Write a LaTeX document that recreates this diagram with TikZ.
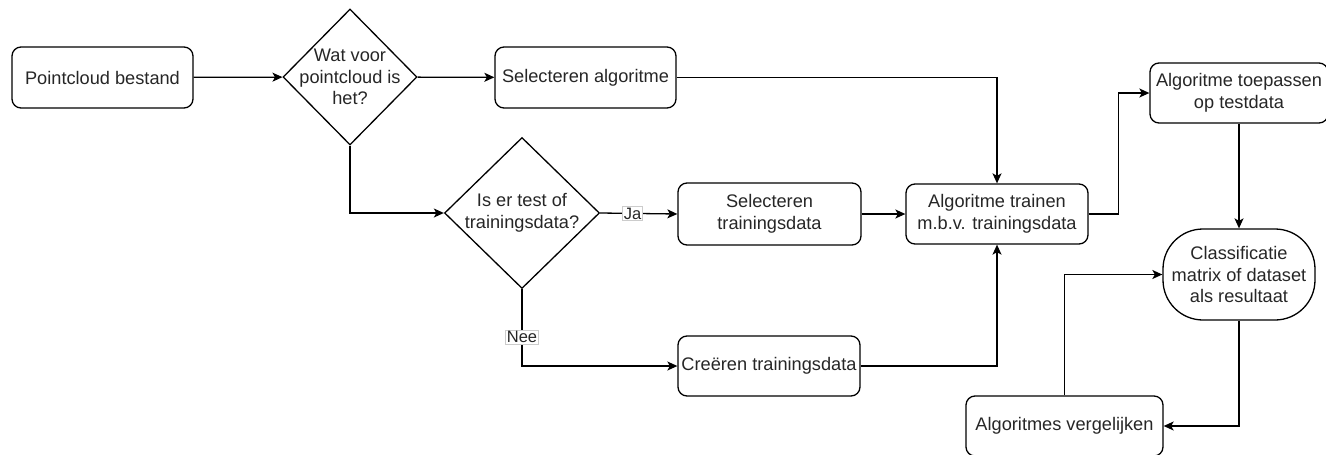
\documentclass[tikz,border=0pt]{standalone}
\usepackage{fontspec}
\setmainfont{Liberation Sans}
\usetikzlibrary{shapes.geometric,arrows.meta}

\tikzset{
  tekst/.style={font=\fontsize{18.2}{21.5}\selectfont, text=black!85},
  stap/.style={draw, rounded corners=9pt, line width=1.3pt, minimum width=181pt,
    minimum height=61pt, inner sep=2pt, align=center, tekst},
  keuze/.style={draw, diamond, line width=1.3pt, inner sep=0pt},
  pijl/.style={-{Stealth[length=10pt,width=9pt,inset=2.5pt]}, line width=1.3pt},
  lbl/.style={fill=white, draw=gray!40, line width=0.5pt, inner sep=1.2pt,
    font=\fontsize{16.5}{19}\selectfont, text=black!85}
}

\begin{document}
\begin{tikzpicture}[x=1pt,y=-1pt]
  \useasboundingbox (0,0) rectangle (1326,455);
  % bovenste rij:
  \node[stap] (bestand) at (102.5,77.5) {Pointcloud bestand};
  \node[keuze, minimum width=134pt, minimum height=136pt,
    label={[tekst, align=center]center:Wat voor\\pointcloud is\\het?}] (wat) at (350,77) {};
  \node[stap] (selalg) at (585.5,77.5) {Selecteren algoritme};
  % middelste rij:
  \node[keuze, minimum width=155pt, minimum height=151pt,
    label={[tekst, align=center]center:Is er test of\\trainingsdata?}] (data) at (522,213) {};
  \node[stap, minimum width=183pt, minimum height=62pt] (seltrain) at (769.5,214) {Selecteren\\trainingsdata};
  \node[stap, minimum width=182pt, minimum height=60pt] (trainen) at (997,214) {Algoritme trainen\\m.b.v. trainingsdata};
  \node[stap, minimum width=178pt, minimum height=60pt] (toepassen) at (1239,93) {Algoritme toepassen\\op testdata};
  \node[stap, rounded corners=40pt, minimum width=152pt, minimum height=91pt] (resultaat) at (1239,274.5) {Classificatie\\matrix of dataset\\als resultaat};
  % onderste rij:
  \node[stap, minimum width=182pt, minimum height=60pt] (creeren) at (769,366) {Creëren trainingsdata};
  \node[stap, minimum width=197pt, minimum height=60pt] (vergelijken) at (1064.5,426) {Algoritmes vergelijken};

  % pijlen
  \draw[pijl] (bestand) -- (wat);
  \draw[pijl] (wat) -- (selalg);
  \draw[pijl] (selalg.east) -| (trainen.north);
  \draw[pijl] (wat.south) |- (data.west);
  \draw[pijl] (data.east) -- node[lbl, pos=0.42] (ja) {Ja} (seltrain.west);
  \draw[pijl] (data.south) |- node[lbl, pos=0.31] (nee) {Nee} (creeren.west);
  \draw[pijl] (seltrain) -- (trainen);
  \draw[pijl] (creeren.east) -| (trainen.south);
  \draw[pijl] (trainen.east) -- ++(30,0) |- (toepassen.west);
  \draw[pijl] (toepassen) -- (resultaat);
  \draw[pijl] (resultaat.south) |- (vergelijken.east);
  \draw[pijl] (vergelijken.north) |- (resultaat.west);
\end{tikzpicture}
\end{document}
